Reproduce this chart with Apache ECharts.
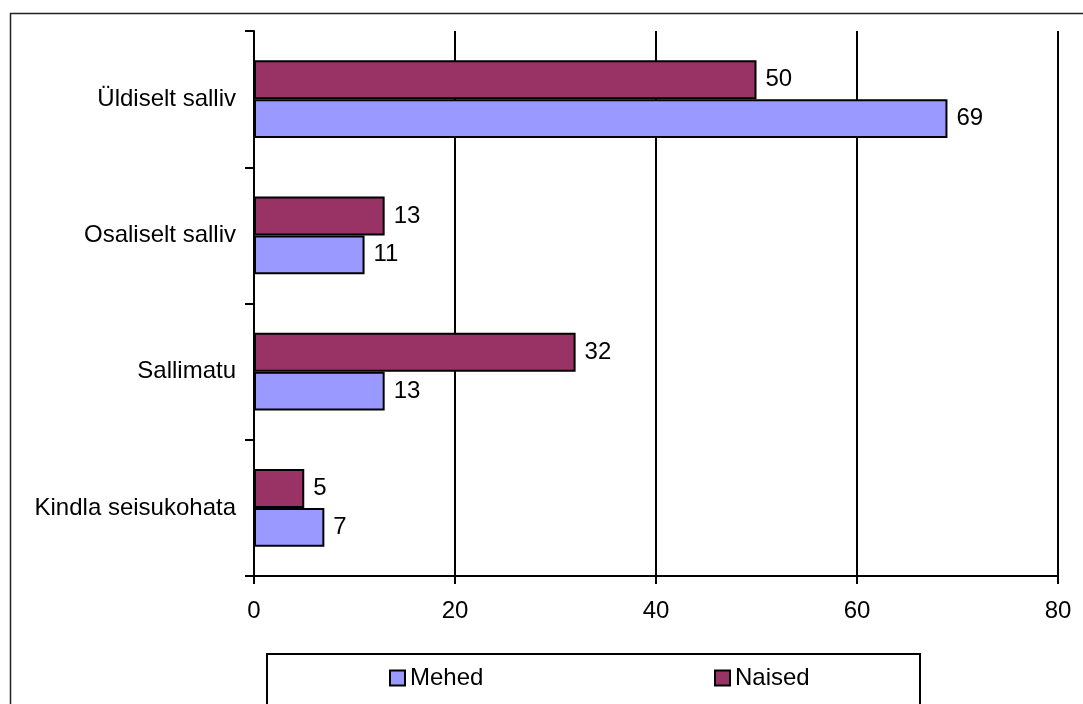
<!DOCTYPE html>
<html>
<head>
<meta charset="utf-8">
<script src="https://cdn.jsdelivr.net/npm/echarts@6/dist/echarts.min.js"></script>
<style>
html,body{margin:0;padding:0;background:#fff;}
#chart{width:1083px;height:704px;}
</style>
</head>
<body>
<div id="chart"></div>
<script>
const categories = ['Üldiselt salliv', 'Osaliselt salliv', 'Sallimatu', 'Kindla seisukohata'];
const mehed = [69, 11, 13, 7];
const naised = [50, 13, 32, 5];
const xTicks = [0, 20, 40, 60, 80];

const FONT = 'Liberation Sans, Arial, sans-serif';
const FS = 24;
const chart = echarts.init(document.getElementById('chart'), null, {renderer: 'canvas'});
const option = {
  backgroundColor: '#fff',
  animation: false,
  textStyle: {fontFamily: FONT},
  grid: {left: 254, right: 25, top: 31, bottom: 128, containLabel: false},
  graphic: [
    {type: 'rect', left: 8, top: 11, z: -10, shape: {width: 1100, height: 720},
     style: {fill: 'none', stroke: '#222', lineWidth: 1.5}},
    {type: 'rect', left: 266, top: 653, z: -5, shape: {width: 653, height: 60},
     style: {fill: '#fff', stroke: '#000', lineWidth: 2}}
  ],
  legend: [
    {data: ['Mehed'], left: 384, top: 661, itemWidth: 15, itemHeight: 15, itemGap: 0,
     icon: 'rect', textStyle: {fontSize: FS, color: '#000', fontFamily: FONT},
     itemStyle: {borderColor: '#000', borderWidth: 2}},
    {data: ['Naised'], left: 709, top: 661, itemWidth: 15, itemHeight: 15, itemGap: 0,
     icon: 'rect', textStyle: {fontSize: FS, color: '#000', fontFamily: FONT},
     itemStyle: {borderColor: '#000', borderWidth: 2}}
  ],
  xAxis: {
    type: 'value', min: xTicks[0], max: xTicks[xTicks.length - 1], interval: 20,
    axisLine: {show: true, lineStyle: {color: '#000', width: 2}},
    axisTick: {show: true, length: 8, lineStyle: {color: '#000', width: 2}},
    axisLabel: {fontSize: FS, color: '#000', margin: 23, fontFamily: FONT},
    splitLine: {show: true, lineStyle: {color: '#000', width: 2}}
  },
  yAxis: {
    type: 'category', data: categories, inverse: true,
    axisLine: {show: true, lineStyle: {color: '#000', width: 2}},
    axisTick: {show: true, length: 9, lineStyle: {color: '#000', width: 2}},
    axisLabel: {fontSize: FS, color: '#000', margin: 18, fontFamily: FONT},
    splitLine: {show: false}
  },
  series: [
    {name: 'Naised', type: 'bar', data: naised, barGap: '0%', barCategoryGap: '43%',
     itemStyle: {color: '#993366', borderColor: '#000', borderWidth: 2},
     label: {show: true, position: 'right', distance: 9, fontSize: FS, color: '#000', fontFamily: FONT}},
    {name: 'Mehed', type: 'bar', data: mehed, barGap: '0%', barCategoryGap: '43%',
     itemStyle: {color: '#9999FF', borderColor: '#000', borderWidth: 2},
     label: {show: true, position: 'right', distance: 9, fontSize: FS, color: '#000', fontFamily: FONT}}
  ]
};
chart.setOption(option);
</script>
</body>
</html>
